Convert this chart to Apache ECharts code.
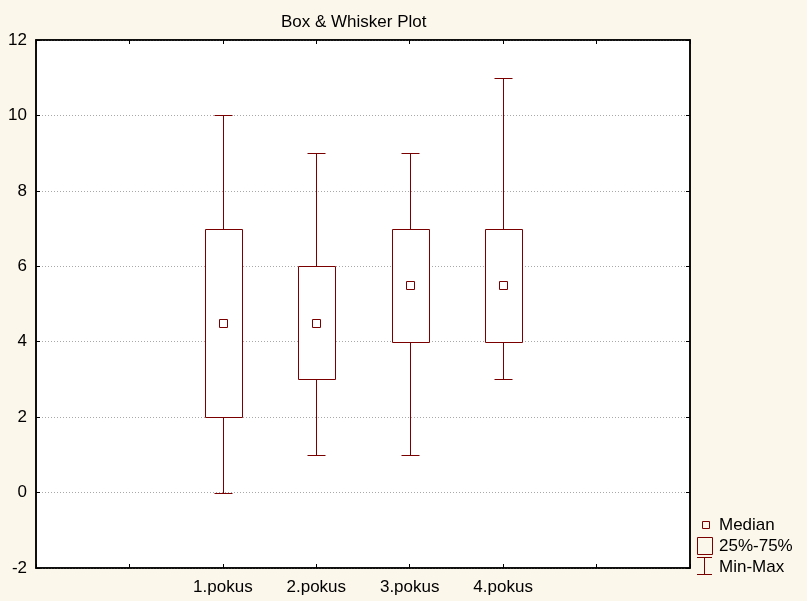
<!DOCTYPE html>
<html>
<head>
<meta charset="utf-8">
<script src="https://cdn.jsdelivr.net/npm/echarts@6/dist/echarts.min.js"></script>
<style>
  html, body { margin: 0; padding: 0; background: #fcf7eb; }
  #grafico { width: 807px; height: 601px; }
</style>
</head>
<body>
<div id="grafico"></div>
<script>
// Categorías del eje X (con huecos vacíos a los lados, como en el original)
const categorias = ['', '', '1.pokus', '2.pokus', '3.pokus', '4.pokus', '', ''];

// Valores de cada pokus: mínimo, cuartil 25%, mediana, cuartil 75%, máximo
const posiciones = [2, 3, 4, 5];
const minimos   = [0, 1, 1, 3];
const q25       = [2, 3, 4, 4];
const medianas  = [4.5, 4.5, 5.5, 5.5];
const q75       = [7, 6, 7, 7];
const maximos   = [10, 9, 9, 11];

// Ticks del eje Y
const yMin = -2, yMax = 12, yPaso = 2;

const colorCaja = '#7a0000';

const datosCajas = posiciones.map((p, i) => [p, minimos[i], q25[i], medianas[i], q75[i], maximos[i]]);

const grafico = echarts.init(document.getElementById('grafico'));

// Redondea al medio píxel para que las líneas salgan nítidas
const px = v => Math.round(v) + 0.5;

function dibujarCaja(params, api) {
    const x = api.value(0);
    const pMin = api.coord([x, api.value(1)]);
    const pQ1  = api.coord([x, api.value(2)]);
    const pMed = api.coord([x, api.value(3)]);
    const pQ3  = api.coord([x, api.value(4)]);
    const pMax = api.coord([x, api.value(5)]);
    const cx = px(pMin[0]);
    const yMn = px(pMin[1]), yQ1 = px(pQ1[1]), yMd = px(pMed[1]), yQ3 = px(pQ3[1]), yMx = px(pMax[1]);
    const anchoCaja = 37, anchoTope = 18, lado = 7;
    const estilo = { stroke: colorCaja, fill: null, lineWidth: 1 };
    return {
        type: 'group',
        children: [
            { type: 'line', shape: { x1: cx, y1: yMn, x2: cx, y2: yQ1 }, style: estilo },
            { type: 'line', shape: { x1: cx, y1: yQ3, x2: cx, y2: yMx }, style: estilo },
            { type: 'line', shape: { x1: cx - anchoTope / 2, y1: yMn, x2: cx + anchoTope / 2, y2: yMn }, style: estilo },
            { type: 'line', shape: { x1: cx - anchoTope / 2, y1: yMx, x2: cx + anchoTope / 2, y2: yMx }, style: estilo },
            { type: 'rect', shape: { x: cx - 18, y: yQ3, width: anchoCaja, height: yQ1 - yQ3 },
              style: { stroke: colorCaja, fill: '#fff', lineWidth: 1 } },
            { type: 'rect', shape: { x: cx - 3.5 - 0.5, y: yMd - 4, width: lado + 1, height: lado + 1 },
              style: { stroke: colorCaja, fill: '#fff', lineWidth: 1 } }
        ]
    };
}

const ejeX = {
    type: 'category',
    data: categorias,
    boundaryGap: false,
    axisLine: { onZero: false, lineStyle: { color: '#000', width: 1.5 } },
    axisTick: { inside: true, length: 4, interval: 0, lineStyle: { color: '#000' } },
    splitLine: { show: false }
};

const ejeY = {
    type: 'value',
    min: yMin,
    max: yMax,
    interval: yPaso,
    axisLine: { show: true, onZero: false, lineStyle: { color: '#000', width: 1.5 } },
    axisTick: { show: true, inside: true, length: 4, lineStyle: { color: '#000' } }
};

const fuente = 'Liberation Sans, Arial, sans-serif';

const opciones = {
    backgroundColor: '#fcf7eb',
    animation: false,
    title: {
        text: 'Box & Whisker Plot',
        left: 276,
        top: 9,
        textStyle: { fontFamily: fuente, fontSize: 17, fontWeight: 'normal', color: '#000' }
    },
    grid: {
        left: 36, right: 117, top: 40, bottom: 33,
        show: true, backgroundColor: '#fff', borderColor: '#000', borderWidth: 1.5
    },
    xAxis: [
        Object.assign({}, ejeX, {
            position: 'bottom',
            axisLabel: { interval: 0, margin: 11, fontFamily: fuente, fontSize: 17, color: '#000' }
        }),
        Object.assign({}, ejeX, { position: 'top', axisLabel: { show: false } })
    ],
    yAxis: [
        Object.assign({}, ejeY, {
            position: 'left',
            axisLabel: { margin: 9, fontFamily: fuente, fontSize: 17, color: '#000' },
            splitLine: { show: true, lineStyle: { color: '#a8a8a8', type: [1, 2], width: 1 } }
        }),
        Object.assign({}, ejeY, { position: 'right', axisLabel: { show: false }, splitLine: { show: false } })
    ],
    series: [{
        name: 'Box',
        type: 'custom',
        renderItem: dibujarCaja,
        encode: { x: 0, y: [1, 2, 3, 4, 5] },
        data: datosCajas,
        z: 5
    }],
    graphic: [
        { type: 'rect', shape: { x: 702.5, y: 521.5, width: 7, height: 7 },
          style: { stroke: colorCaja, fill: null, lineWidth: 1 } },
        { type: 'rect', shape: { x: 697.5, y: 537.5, width: 15, height: 17 },
          style: { stroke: colorCaja, fill: null, lineWidth: 1 } },
        { type: 'line', shape: { x1: 697, y1: 557.5, x2: 712, y2: 557.5 }, style: { stroke: colorCaja, lineWidth: 1 } },
        { type: 'line', shape: { x1: 704.5, y1: 557.5, x2: 704.5, y2: 574.5 }, style: { stroke: colorCaja, lineWidth: 1 } },
        { type: 'line', shape: { x1: 697, y1: 574.5, x2: 712, y2: 574.5 }, style: { stroke: colorCaja, lineWidth: 1 } },
        { type: 'text', x: 719, y: 525, style: { text: 'Median', font: '17px ' + fuente, fill: '#000', verticalAlign: 'middle' } },
        { type: 'text', x: 719, y: 546, style: { text: '25%-75%', font: '17px ' + fuente, fill: '#000', verticalAlign: 'middle' } },
        { type: 'text', x: 719, y: 567, style: { text: 'Min-Max', font: '17px ' + fuente, fill: '#000', verticalAlign: 'middle' } }
    ]
};

grafico.setOption(opciones);
</script>
</body>
</html>
